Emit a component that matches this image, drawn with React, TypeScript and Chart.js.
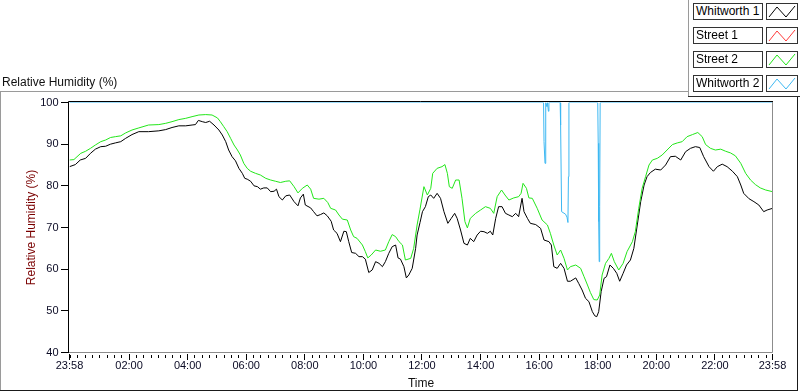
import React, { useEffect, useRef } from "react";
import { Chart, registerables } from "chart.js";

Chart.register(...registerables);

const FONT = "'Liberation Sans', Arial, Helvetica, sans-serif";

const seriesNames = ["Whitworth 1", "Street 1", "Street 2", "Whitworth 2"];
const seriesColors = ["#000000", "#ff3b3b", "#23e61a", "#3db8f2"];

const plotTitle = "Relative Humidity (%)";
const yAxisTitle = "Relative Humidity (%)";
const xAxisTitle = "Time";

// time axis: minutes after the first sample at 23:58
const startClockMinutes = 23 * 60 + 58;
const spanMinutes = 1440;
const xLabelMinutes = [0, 122, 242, 362, 482, 602, 722, 842, 962, 1082, 1202, 1322, 1440];
const yMin = 40;
const yMax = 100;
const yStep = 10;

// Whitworth 1 (black)
const w1Minutes = [0, 12, 22, 33, 43, 53, 64, 74, 84, 94, 105, 115, 128, 142, 162, 183, 197, 210, 224, 238, 251, 258, 264, 272, 279, 287, 296, 306, 313, 320, 326, 333, 340, 347, 354, 359, 364, 371, 378, 385, 391, 398, 405, 412, 419, 424, 429, 436, 443, 451, 460, 468, 473, 479, 483, 494, 500, 507, 514, 521, 528, 536, 541, 548, 555, 562, 567, 572, 578, 586, 593, 600, 606, 613, 620, 627, 634, 641, 647, 654, 661, 668, 673, 678, 685, 690, 695, 702, 709, 712, 718, 723, 729, 735, 740, 746, 753, 760, 767, 775, 782, 789, 794, 801, 808, 815, 821, 828, 835, 842, 849, 856, 862, 867, 873, 879, 886, 893, 900, 907, 914, 920, 927, 931, 938, 944, 955, 965, 972, 982, 987, 992, 999, 1006, 1013, 1020, 1026, 1037, 1043, 1050, 1057, 1064, 1071, 1076, 1080, 1084, 1089, 1095, 1100, 1107, 1114, 1121, 1127, 1134, 1141, 1149, 1156, 1163, 1170, 1177, 1183, 1190, 1200, 1211, 1221, 1231, 1241, 1252, 1262, 1272, 1282, 1291, 1299, 1310, 1319, 1327, 1337, 1347, 1358, 1368, 1375, 1381, 1392, 1402, 1412, 1422, 1429, 1440];
const w1Values = [84.6, 85.1, 86.2, 86.6, 87.8, 88.8, 89.4, 89.5, 90.0, 90.3, 90.6, 91.4, 92.3, 93.0, 93.0, 93.2, 93.5, 94.0, 94.4, 94.4, 94.6, 94.7, 95.7, 95.4, 95.2, 95.5, 94.6, 93.4, 92.2, 90.6, 88.6, 87.0, 86.0, 84.2, 83.0, 81.8, 81.6, 81.1, 80.0, 79.8, 79.2, 79.5, 79.5, 78.6, 78.7, 79.2, 77.4, 76.6, 77.6, 77.8, 76.2, 75.2, 77.1, 78.0, 75.4, 74.7, 73.8, 72.8, 73.1, 73.5, 72.8, 71.5, 69.4, 68.6, 66.6, 69.1, 69.0, 66.6, 64.0, 63.8, 63.0, 63.0, 62.4, 59.2, 59.8, 61.8, 61.4, 60.6, 61.8, 63.8, 65.4, 65.8, 62.7, 62.4, 60.6, 57.9, 58.6, 60.2, 65.0, 68.2, 71.2, 73.8, 75.0, 77.4, 77.8, 77.0, 78.2, 77.0, 73.8, 71.0, 72.2, 73.4, 72.2, 69.4, 66.2, 65.8, 67.4, 66.6, 68.2, 69.1, 69.0, 68.6, 69.1, 68.2, 72.2, 75.0, 75.0, 73.4, 73.0, 72.6, 73.4, 72.6, 77.0, 73.8, 72.2, 71.0, 70.7, 69.8, 67.0, 66.6, 65.8, 60.6, 60.2, 61.4, 60.2, 57.1, 57.1, 57.9, 56.6, 55.0, 53.0, 52.2, 49.8, 48.8, 48.6, 49.8, 54.6, 57.8, 58.2, 61.0, 60.2, 59.0, 57.1, 59.0, 61.0, 62.2, 65.0, 70.6, 76.2, 80.2, 82.2, 83.2, 84.0, 83.8, 85.0, 87.0, 87.1, 86.2, 88.2, 89.0, 89.4, 89.2, 87.0, 84.6, 83.5, 84.6, 85.2, 84.6, 83.5, 82.2, 80.2, 78.2, 76.9, 76.2, 75.4, 73.8, 74.2, 74.6];

// Street 1 (red) - no visible trace in the reference
const s1Minutes: number[] = [];
const s1Values: number[] = [];

// Street 2 (green)
const s2Minutes = [0, 9, 23, 33, 43, 53, 64, 74, 84, 94, 105, 115, 128, 142, 162, 183, 197, 210, 224, 238, 251, 265, 279, 292, 303, 309, 316, 323, 330, 337, 344, 350, 357, 364, 371, 381, 391, 402, 412, 422, 432, 443, 451, 460, 468, 477, 487, 494, 500, 511, 521, 529, 535, 545, 552, 559, 569, 576, 582, 589, 600, 606, 611, 618, 627, 637, 647, 654, 661, 668, 675, 682, 688, 699, 705, 712, 718, 726, 733, 740, 744, 753, 763, 769, 774, 778, 784, 791, 798, 804, 810, 815, 821, 832, 842, 852, 862, 869, 876, 885, 892, 900, 910, 920, 925, 929, 936, 941, 948, 958, 968, 979, 985, 992, 999, 1006, 1013, 1020, 1026, 1037, 1047, 1054, 1061, 1067, 1074, 1081, 1086, 1091, 1098, 1105, 1110, 1116, 1125, 1134, 1142, 1153, 1159, 1166, 1173, 1180, 1187, 1194, 1204, 1214, 1224, 1235, 1245, 1255, 1265, 1276, 1287, 1296, 1303, 1313, 1323, 1334, 1344, 1354, 1364, 1375, 1385, 1395, 1405, 1415, 1426, 1440];
const s2Values = [86.2, 86.3, 87.8, 88.3, 89.0, 89.8, 90.6, 91.0, 91.6, 91.8, 92.0, 92.7, 93.4, 93.9, 94.6, 94.7, 95.0, 95.4, 95.9, 96.2, 96.6, 97.0, 97.1, 97.0, 96.3, 95.4, 94.2, 93.0, 91.4, 89.8, 88.6, 87.4, 85.4, 84.2, 83.5, 83.0, 82.6, 81.8, 81.4, 81.1, 80.8, 81.1, 81.2, 79.8, 78.3, 79.4, 80.2, 79.2, 77.0, 76.8, 77.0, 76.0, 74.6, 74.2, 73.0, 72.0, 71.8, 69.4, 67.8, 67.4, 65.8, 64.2, 62.7, 63.4, 64.6, 64.3, 64.6, 66.6, 68.3, 67.8, 66.6, 65.8, 62.2, 62.6, 65.0, 70.6, 74.4, 79.8, 77.8, 79.4, 83.0, 84.2, 84.6, 85.1, 83.0, 79.8, 79.4, 81.4, 81.4, 77.0, 71.4, 69.9, 72.2, 73.4, 74.2, 75.0, 74.6, 73.4, 77.4, 79.0, 77.8, 76.6, 77.1, 77.4, 78.2, 80.6, 79.4, 77.1, 77.0, 74.6, 71.8, 70.6, 68.6, 65.8, 63.4, 64.6, 62.6, 59.8, 60.6, 61.0, 60.2, 58.2, 56.2, 54.4, 52.7, 52.6, 53.8, 58.6, 61.4, 62.6, 63.8, 61.8, 59.8, 61.4, 64.2, 66.6, 69.0, 74.6, 79.4, 82.2, 85.0, 86.2, 86.6, 87.4, 88.6, 89.9, 90.3, 90.6, 91.8, 92.3, 92.8, 91.8, 89.9, 89.0, 88.6, 88.8, 88.3, 87.9, 87.2, 85.4, 83.0, 81.4, 80.3, 79.5, 79.0, 78.6];

// Whitworth 2 (light blue)
const w2Minutes = [0, 971, 972, 974, 975, 976, 978, 979, 981, 982, 1005, 1006, 1008, 1016, 1019, 1021, 1022, 1023, 1082, 1083, 1084, 1085, 1086, 1087, 1440];
const w2Values = [100, 100, 90.6, 85.4, 85.4, 100, 99, 100, 97.9, 100, 100, 94.6, 73.8, 73.2, 72.5, 71.2, 82.2, 100, 100, 90.2, 71.4, 61.8, 75, 100, 100];

const seriesMinutes = [w1Minutes, s1Minutes, s2Minutes, w2Minutes];
const seriesValues = [w1Values, s1Values, s2Values, w2Values];

function clockLabel(m: number): string {
  const t = (startClockMinutes + m) % 1440;
  const h = Math.floor(t / 60);
  const mm = t % 60;
  return `${String(h).padStart(2, "0")}:${String(mm).padStart(2, "0")}`;
}

function buildXTicks(): number[] {
  const set = new Set<number>(xLabelMinutes);
  // minor ticks every quarter hour of clock time
  for (let m = (60 - (startClockMinutes % 15)) % 15; m < spanMinutes; m += 15) set.add(m);
  return Array.from(set).sort((a, b) => a - b);
}

const axesPlugin = {
  id: "labviewAxes",
  afterDraw(chart: any) {
    const { ctx, chartArea: a, scales } = chart;
    const xs = scales.x;
    const ys = scales.y;
    const L = Math.floor(a.left) - 1; // axis column
    const T = Math.floor(a.top) - 1;
    const B = Math.floor(a.bottom);
    const R = Math.floor(a.right);
    ctx.save();
    ctx.lineWidth = 1;
    // top and left black frame
    ctx.strokeStyle = "#000";
    ctx.beginPath();
    ctx.moveTo(L + 0.5, B + 1);
    ctx.lineTo(L + 0.5, T + 0.5);
    ctx.lineTo(R + 1, T + 0.5);
    ctx.stroke();
    // right and bottom gray frame
    ctx.strokeStyle = "#8c8c8c";
    ctx.beginPath();
    ctx.moveTo(R + 0.5, T + 1);
    ctx.lineTo(R + 0.5, B + 0.5);
    ctx.lineTo(L + 1, B + 0.5);
    ctx.stroke();
    // y ticks
    ctx.strokeStyle = "#000";
    ctx.beginPath();
    for (const t of ys.ticks) {
      const py = Math.floor(ys.getPixelForValue(t.value)) + 0.5;
      ctx.moveTo(L - 7, py);
      ctx.lineTo(L, py);
    }
    ctx.stroke();
    // x ticks
    ctx.beginPath();
    for (const t of xs.ticks) {
      const px = Math.floor(xs.getPixelForValue(t.value)) + 0.5;
      const major = xLabelMinutes.includes(t.value);
      ctx.moveTo(px, B + (major ? 2 : 3));
      ctx.lineTo(px, B + (major ? 8 : 6));
    }
    ctx.stroke();
    ctx.restore();
  },
};

export default function App() {
  const canvasRef = useRef<HTMLCanvasElement | null>(null);

  useEffect(() => {
    const canvas = canvasRef.current;
    if (!canvas) return;
    const order = [4, 3, 2, 1];
    const chart = new Chart(canvas, {
      type: "line",
      data: {
        datasets: seriesNames.map((name, i) => ({
          label: name,
          data: seriesMinutes[i].map((m, k) => ({ x: m, y: seriesValues[i][k] })),
          borderColor: seriesColors[i],
          backgroundColor: seriesColors[i],
          borderWidth: 1,
          pointRadius: 0,
          tension: 0,
          fill: false,
          order: order[i],
        })),
      },
      options: {
        responsive: false,
        devicePixelRatio: 1,
        animation: false,
        events: [],
        layout: { padding: { left: 0, top: 102.5, right: 27.5, bottom: 0 } },
        plugins: {
          legend: { display: false },
          tooltip: { enabled: false },
          title: { display: false },
        },
        scales: {
          x: {
            type: "linear",
            position: "bottom",
            min: 0,
            max: spanMinutes,
            grid: { display: false, drawTicks: false },
            border: { display: false },
            afterBuildTicks: (scale: any) => {
              scale.ticks = buildXTicks().map((v) => ({ value: v }));
            },
            afterFit: (scale: any) => {
              scale.height = 39.5;
            },
            ticks: {
              autoSkip: false,
              maxRotation: 0,
              minRotation: 0,
              padding: 7,
              color: "#0a0a24",
              font: { family: FONT, size: 11 },
              callback: (value: any) => (xLabelMinutes.includes(Number(value)) ? clockLabel(Number(value)) : ""),
            },
            title: {
              display: true,
              text: xAxisTitle,
              color: "#111",
              font: { family: FONT, size: 12 },
              padding: { top: 0, bottom: 1 },
            },
          },
          y: {
            type: "linear",
            position: "left",
            min: yMin,
            max: yMax,
            grid: { display: false, drawTicks: false },
            border: { display: false },
            afterFit: (scale: any) => {
              scale.width = 69.5;
            },
            ticks: {
              stepSize: yStep,
              padding: 11,
              color: "#0a0a24",
              font: { family: FONT, size: 11 },
            },
            title: {
              display: true,
              text: yAxisTitle,
              color: "#7a0000",
              font: { family: FONT, size: 12 },
              padding: { top: 24, bottom: 0 },
            },
          },
        },
      },
      plugins: [axesPlugin],
    } as any);
    return () => chart.destroy();
  }, []);

  const line = (left: number, top: number, width: number, height: number, color: string) => (
    <div style={{ position: "absolute", left, top, width, height, background: color }} />
  );

  return (
    <div style={{ position: "absolute", left: 0, top: 0, width: 800, height: 392, background: "#fff", overflow: "hidden" }}>
      <canvas ref={canvasRef} width={800} height={392} style={{ position: "absolute", left: 0, top: 0, display: "block" }} />
      <div
        style={{
          position: "absolute",
          left: 2,
          top: 75,
          font: `12px ${FONT}`,
          lineHeight: "14px",
          color: "#111",
          whiteSpace: "nowrap",
        }}
      >
        {plotTitle}
      </div>
      {line(0, 91, 688, 1, "#9a9a9a")}
      {line(0, 91, 1, 300, "#9a9a9a")}
      {line(0, 390, 798, 1, "#1a1a1a")}
      {line(797, 96, 1, 295, "#1a1a1a")}
      {line(688, 0, 1, 97, "#9a9a9a")}
      {line(688, 96, 112, 1, "#2a2a2a")}
      {seriesNames.map((name, i) => (
        <React.Fragment key={name}>
          <div
            style={{
              position: "absolute",
              left: 693,
              top: 3 + 24 * i,
              width: 70,
              height: 17,
              boxSizing: "border-box",
              border: "1px solid #333",
              background: "#fff",
              font: `12px ${FONT}`,
              lineHeight: "15px",
              paddingLeft: 2,
              color: "#000",
              whiteSpace: "nowrap",
              overflow: "hidden",
            }}
          >
            {name}
          </div>
          <svg style={{ position: "absolute", left: 766, top: 3 + 24 * i }} width={32} height={17}>
            <rect x={0.5} y={0.5} width={31} height={16} fill="#fff" stroke="#333" />
            <polyline points="3,14 11,4 20,14 29,3" fill="none" stroke={seriesColors[i]} strokeWidth={1} />
          </svg>
        </React.Fragment>
      ))}
    </div>
  );
}
